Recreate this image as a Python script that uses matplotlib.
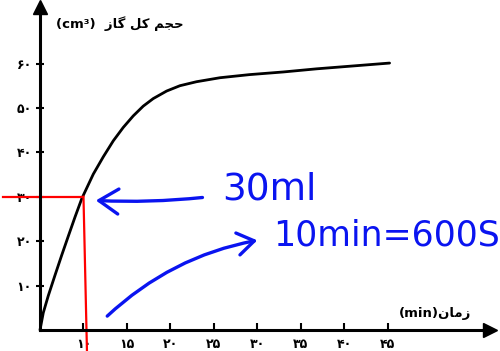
import numpy as np
import matplotlib.pyplot as plt

# داده ها (خوانده شده از تصویر)
time_min = [5, 5.38, 5.95, 6.72, 7.49, 8.25, 9.02, 9.79, 10.0, 11.13, 12.28, 13.43, 14.57,
            15.72, 16.87, 18.02, 19.56, 21.09, 23.0, 25.7, 29.1, 33.0, 36.8, 45.2]
gas_vol = [0, 3.9, 7.7, 12.3, 16.8, 21.1, 25.4, 29.5, 30.4, 35.1, 39.0, 42.6, 45.6,
           48.2, 50.4, 52.1, 53.8, 55.0, 55.9, 56.8, 57.5, 58.1, 58.8, 60.1]

x_ticks = [10, 15, 20, 25, 30, 35, 40, 45]
x_labels = ['۱۰', '۱۵', '۲۰', '۲۵', '۳۰', '۳۵', '۴۰', '۴۵']
y_ticks = [10, 20, 30, 40, 50, 60]
y_labels = ['۱۰', '۲۰', '۳۰', '۴۰', '۵۰', '۶۰']

mark_t = 10
mark_v = 30

# متن فارسی با حروف شکل دار (ترتیب دیداری)
y_title = '(cm³)  ﺯﺎﮔ ﻞﮐ ﻢﺠﺣ'
x_title = '(min)ﻥﺎﻣﺯ'

fig = plt.figure(figsize=(5, 3.51), dpi=100)
ax = fig.add_axes([0, 0, 1, 1])
ax.set_xlim(0.4, 57.9)
ax.set_ylim(-4.73, 74.3)

# محورها
for s in ['top', 'right']:
    ax.spines[s].set_visible(False)
ax.spines['left'].set_position(('data', 5))
ax.spines['bottom'].set_position(('data', 0))
ax.spines['left'].set_bounds(0, 72)
ax.spines['bottom'].set_bounds(5, 56)
ax.spines['left'].set_linewidth(2.2)
ax.spines['bottom'].set_linewidth(2.2)
ax.plot(56.8, 0, marker='>', color='black', markersize=10, clip_on=False)
ax.plot(5, 72.8, marker='^', color='black', markersize=10, clip_on=False)

ax.set_xticks(x_ticks, x_labels, fontsize=9, fontweight='bold')
ax.set_yticks(y_ticks, y_labels, fontsize=9, fontweight='bold')
ax.tick_params(axis='x', direction='in', length=5, width=1.5, pad=6)
ax.tick_params(axis='y', direction='inout', length=6, width=1.5, pad=3)

# منحنی
ax.plot(time_min, gas_vol, color='black', lw=2.0, solid_capstyle='round', solid_joinstyle='round')

# خطوط قرمز
ax.plot([0.75, mark_t], [mark_v, mark_v], color='red', lw=1.6, clip_on=False)
ax.plot([mark_t, mark_t + 0.4], [mark_v, -4.7], color='red', lw=1.6, clip_on=False)

ax.text(14.2, 69.1, y_title, fontsize=9.5, fontweight='bold', ha='center', va='center')
ax.text(50.4, 3.8, x_title, fontsize=9.5, fontweight='bold', ha='center', va='center')

# یادداشت های آبی
blue = '#0a14f0'
ax.text(25.9, 29.3, '30ml', color=blue, fontsize=27, ha='left', va='baseline')
ax.text(31.8, 19.1, '10min=600S', color=blue, fontsize=25, ha='left', va='baseline')
ax.annotate('', xy=(11.1, 29.2), xytext=(24.0, 29.9),
            arrowprops=dict(arrowstyle='->,head_length=0.7,head_width=0.45', color=blue,
                            lw=2.4, mutation_scale=20, connectionstyle='arc3,rad=-0.04'))
ax.annotate('', xy=(30.3, 20.3), xytext=(12.5, 2.7),
            arrowprops=dict(arrowstyle='->,head_length=0.6,head_width=0.4', color=blue,
                            lw=2.4, mutation_scale=20, connectionstyle='arc3,rad=-0.15'))

fig.savefig('out.png', dpi=100)
